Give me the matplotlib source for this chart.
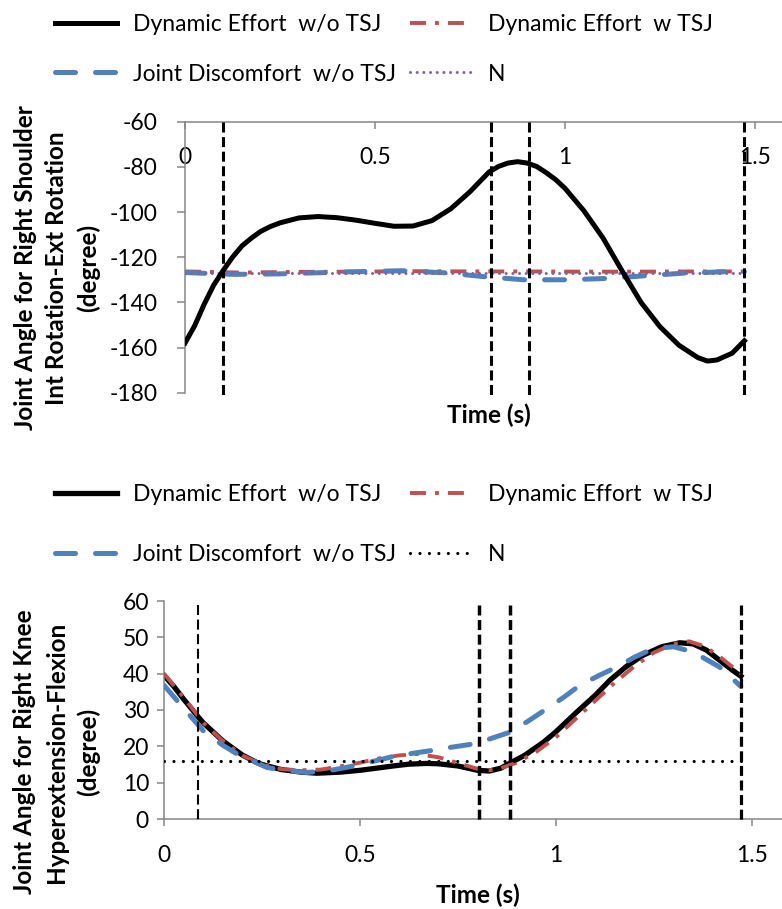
import matplotlib
matplotlib.use('Agg')
import matplotlib.pyplot as plt

plt.rcParams['font.family'] = ['Lato', 'DejaVu Sans']
plt.rcParams['lines.scale_dashes'] = False   # dash lengths in points

RED = '#C0504D'
BLUE = '#4F81BD'
PURPLE = '#8064A2'
GRAY = '#868686'

labels = ['Dynamic Effort  w/o TSJ', 'Joint Discomfort  w/o TSJ',
          'Dynamic Effort  w TSJ', 'N']
x_ticks = [0, 0.5, 1, 1.5]
x_tick_labels = ['0', '0.5', '1', '1.5']

# ---------------- shoulder (top chart) ----------------
sh_t_black = [0, 0.025, 0.05, 0.075, 0.1, 0.125, 0.15, 0.175, 0.2, 0.225, 0.25, 0.3, 0.35,
              0.4, 0.45, 0.5, 0.55, 0.6, 0.65, 0.7, 0.75, 0.8, 0.825, 0.85, 0.875, 0.9,
              0.925, 0.95, 0.975, 1.0, 1.05, 1.1, 1.15, 1.2, 1.25, 1.3, 1.35, 1.375, 1.4,
              1.44, 1.472]
sh_black = [-158, -150.5, -141, -132.5, -126, -120, -115, -111.5, -108.5, -106.4, -104.8, -102.6, -102,
            -102.5, -103.6, -105, -106.3, -106.2, -103.8, -98.5, -91, -82.3, -79.8, -78.3, -77.7, -78.3,
            -79.8, -82.5, -85.6, -89.5, -99.5, -111.5, -126, -140, -150.8, -159, -164.5, -166, -165.5,
            -162.5, -157]
sh_t_red = [0, 0.15, 0.3, 0.45, 0.6, 0.75, 0.9, 1.05, 1.2, 1.35, 1.472]
sh_red = [-126.3, -126.8, -126.5, -126.4, -126.2, -126.3, -126.3, -126.4, -126.4, -126.3, -126.3]
sh_t_blue = [0, 0.13, 0.246, 0.35, 0.45, 0.57, 0.683, 0.787, 0.892, 1.005, 1.11, 1.213,
             1.318, 1.433, 1.472]
sh_blue = [-126.8, -127.6, -127.4, -126.9, -126.4, -126, -126.9, -128.6, -130, -130, -129.4, -128.2,
           -127, -126.4, -126.4]
sh_t_n = [0, 1.472]
sh_n = [-127, -127]
sh_events = [0.10, 0.806, 0.904, 1.472]
sh_y_ticks = [-180, -160, -140, -120, -100, -80, -60]
sh_y_tick_labels = ['-180', '-160', '-140', '-120', '-100', '-80', '-60']

# ---------------- knee (bottom chart) ----------------
kn_t_black = [0, 0.025, 0.05, 0.088, 0.1, 0.15, 0.2, 0.236, 0.25, 0.3, 0.35, 0.39, 0.45, 0.5,
              0.55, 0.585, 0.625, 0.67, 0.7, 0.75, 0.8, 0.83, 0.86, 0.883, 0.92, 0.968, 1.0,
              1.053, 1.1, 1.138, 1.18, 1.223, 1.27, 1.316, 1.35, 1.384, 1.42, 1.45, 1.472]
kn_black = [39.5, 36.5, 33, 28, 26.5, 21.5, 17.6, 15.6, 15, 13.6, 12.9, 12.6, 12.9, 13.4,
            14.1, 14.6, 15.1, 15.3, 15.2, 14.6, 13.4, 13.2, 14, 15.4, 17.5, 21.1, 24,
            29.4, 34, 38.2, 42, 45.1, 47.4, 48.5, 48.2, 46.5, 43.5, 41, 39.3]
kn_t_red = [0, 0.05, 0.1, 0.15, 0.2, 0.25, 0.3, 0.35, 0.4, 0.45, 0.5, 0.55, 0.6, 0.645, 0.7,
            0.75, 0.8, 0.83, 0.86, 0.9, 0.95, 1.0, 1.05, 1.1, 1.15, 1.2, 1.25, 1.3, 1.34, 1.38,
            1.42, 1.472]
kn_red = [40, 33.5, 26.5, 21.5, 17.5, 15, 13.7, 13.4, 13.6, 14.5, 15.5, 16.7, 17.5, 17.9, 17,
          15.4, 13.8, 13.4, 14, 15.5, 18.5, 22.5, 27.5, 32.5, 37.5, 42, 45.8, 48.2, 48.9, 47.5,
          44.5, 40]
kn_t_blue = [0, 0.05, 0.1, 0.15, 0.185, 0.262, 0.3, 0.364, 0.42, 0.466, 0.52, 0.577, 0.63, 0.68,
             0.73, 0.78, 0.83, 0.883, 0.93, 0.976, 1.02, 1.061, 1.11, 1.155, 1.2, 1.248, 1.3,
             1.35, 1.418, 1.472]
kn_blue = [36.8, 30.5, 24.3, 20.3, 18, 14.2, 13.5, 12.8, 13.3, 14.2, 15.5, 17, 18, 18.8,
           19.7, 20.5, 22, 23.9, 27, 30.3, 33.5, 36.8, 39.5, 41.8, 44.5, 46.9, 47.4,
           46, 41.8, 36.5]
kn_t_n = [0, 1.472]
kn_n = [16, 16]
kn_events = [0.088, 0.804, 0.884, 1.472]
kn_event_widths = [1.5, 2.5, 2.5, 2.3]
kn_y_ticks = [0, 10, 20, 30, 40, 50, 60]
kn_y_tick_labels = ['0', '10', '20', '30', '40', '50', '60']

fig = plt.figure(figsize=(7.82, 9.09), dpi=100)
ax1 = fig.add_axes([185 / 782, 1 - 392.7 / 909, 608 / 782, 271 / 909])
ax2 = fig.add_axes([164 / 782, 1 - 819 / 909, 627 / 782, 218 / 909])


def style_axes(ax):
    for side in ['right', 'bottom', 'top', 'left']:
        ax.spines[side].set_color(GRAY)
        ax.spines[side].set_linewidth(1.1)
    ax.spines['right'].set_visible(False)


# top chart
l_red, = ax1.plot(sh_t_red, sh_red, color=RED, lw=2.8, dashes=(11.5, 6.5, 2.8, 6.5),
                  dash_capstyle='butt', zorder=2)
l_blue, = ax1.plot(sh_t_blue, sh_blue, color=BLUE, lw=3.6, dashes=(14.4, 14.4),
                   dash_capstyle='round', zorder=3)
l_n, = ax1.plot(sh_t_n, sh_n, color=PURPLE, lw=2.2, dashes=(0.01, 4.8),
                dash_capstyle='round', zorder=4)
l_black, = ax1.plot(sh_t_black, sh_black, color='black', lw=3.6, zorder=5)
for e in sh_events:
    ax1.plot([e, e], [-60, -181], color='black', lw=2.2, dashes=(7.2, 3.3), clip_on=False, zorder=6)

ax1.set_xlim(0, 1.6)
ax1.set_ylim(-180, -60)
ax1.set_xticks(x_ticks)
ax1.set_xticklabels(x_tick_labels)
ax1.set_yticks(sh_y_ticks)
ax1.set_yticklabels(sh_y_tick_labels)
ax1.xaxis.tick_top()
style_axes(ax1)
ax1.spines['bottom'].set_visible(False)
ax1.tick_params(axis='x', direction='in', length=5, width=1.1, color=GRAY, pad=-33, labelsize=16.5)
ax1.tick_params(axis='y', direction='out', length=6, width=1.1, color=GRAY, pad=13.7, labelsize=16.5)
ax1.set_xlabel('Time (s)', fontsize=17.5, fontweight='bold', labelpad=7.7)
ax1.set_ylabel('Joint Angle for Right Shoulder\nInt Rotation-Ext Rotation\n(degree)',
               fontsize=17.5, fontweight='bold', linespacing=1.45, va='center', ma='center')
ax1.yaxis.set_label_coords(-0.2105, 0.46)

fig.legend([l_black, l_blue, l_red, l_n], labels, loc='upper left',
           bbox_to_anchor=(55 / 782, 0.9845), ncol=2, frameon=False, fontsize=16.5,
           borderpad=0, borderaxespad=0, handlelength=2.7, handletextpad=0.7,
           columnspacing=0.6, labelspacing=1.24)

# bottom chart
k_black, = ax2.plot(kn_t_black, kn_black, color='black', lw=3.8, zorder=2)
k_red, = ax2.plot(kn_t_red, kn_red, color=RED, lw=2.8, dashes=(11.5, 6.5, 2.8, 6.5),
                  dash_capstyle='butt', zorder=3)
k_blue, = ax2.plot(kn_t_blue, kn_blue, color=BLUE, lw=3.6, dashes=(14.4, 14.4),
                   dash_capstyle='round', zorder=4)
k_n, = ax2.plot(kn_t_n, kn_n, color='black', lw=2.3, dashes=(0.01, 6.8),
                dash_capstyle='round', zorder=5)
for e, w in zip(kn_events, kn_event_widths):
    ax2.plot([e, e], [59, -0.8], color='black', lw=w, dashes=(7.2, 3.3), clip_on=False, zorder=6)

ax2.set_xlim(0, 1.6)
ax2.set_ylim(0, 60)
ax2.set_xticks(x_ticks)
ax2.set_xticklabels(x_tick_labels)
ax2.set_yticks(kn_y_ticks)
ax2.set_yticklabels(kn_y_tick_labels)
style_axes(ax2)
ax2.spines['top'].set_visible(False)
ax2.tick_params(axis='x', direction='out', length=5, width=1.1, color=GRAY, pad=13.7, labelsize=16.5)
ax2.tick_params(axis='y', direction='out', length=5, width=1.1, color=GRAY, pad=5.8, labelsize=16.5)
ax2.set_xlabel('Time (s)', fontsize=17.5, fontweight='bold', labelpad=12.7)
ax2.set_ylabel('Joint Angle for Right Knee\nHyperextension-Flexion\n(degree)',
               fontsize=17.5, fontweight='bold', linespacing=1.45, va='center', ma='center')
ax2.yaxis.set_label_coords(-0.1707, 0.307)

fig.legend([k_black, k_blue, k_red, k_n], labels, loc='upper left',
           bbox_to_anchor=(55 / 782, 0.468), ncol=2, frameon=False, fontsize=16.5,
           borderpad=0, borderaxespad=0, handlelength=2.7, handletextpad=0.7,
           columnspacing=0.6, labelspacing=1.7)

fig.savefig('out.png', dpi=100)
